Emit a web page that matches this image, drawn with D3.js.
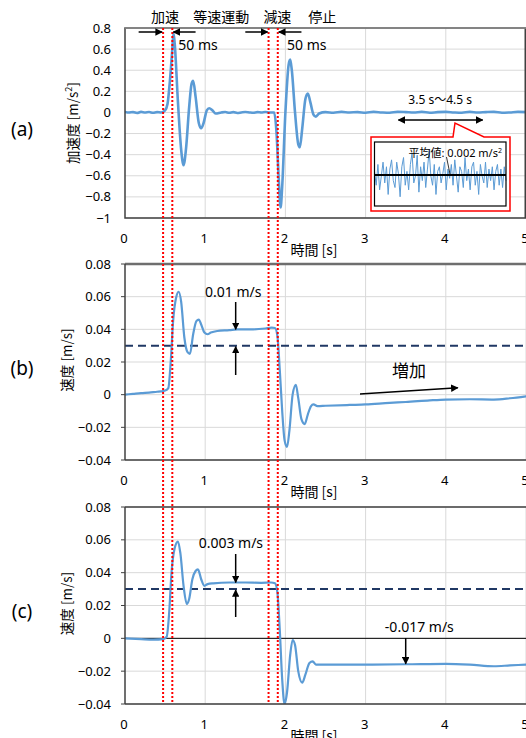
<!DOCTYPE html>
<html lang="ja">
<head>
<meta charset="UTF-8">
<title>加速度・速度</title>
<style>
  body { margin: 0; background: #fff; }
  svg { display: block; }
  text { font-family: "Noto Sans", "Noto Sans CJK JP", sans-serif; fill: #000; }
  .jp { font-family: "Noto Sans CJK JP", "Noto Sans", sans-serif; }
  .tick-label { font-size: 13px; }
  .grid line { stroke: #d9d9d9; stroke-width: 1; }
  .series { fill: none; stroke: #5b9bd5; stroke-linejoin: round; stroke-linecap: round; }
  .phase { stroke: #ff0000; stroke-width: 2; stroke-dasharray: 2,2; }
  .target { stroke: #203864; stroke-width: 2; stroke-dasharray: 8,5; }
  .arrow { stroke: #000; stroke-width: 1.5; fill: none; }
</style>
</head>
<body>
<script src="https://cdn.jsdelivr.net/npm/d3@7"></script>
<script>
// --- data ---
var xTicks = [0, 1, 2, 3, 4, 5];
var accTicks = [0.8, 0.6, 0.4, 0.2, 0, -0.2, -0.4, -0.6, -0.8, -1];
var velTicks = [0.08, 0.06, 0.04, 0.02, 0, -0.02, -0.04];

// phase boundaries [s] (red dotted lines)
var phaseTimes = [0.475, 0.59, 1.79, 1.905];
var phaseLabels = [
  {t: 0.5, text: "加速"}, {t: 1.2, text: "等速運動"},
  {t: 1.9, text: "減速"}, {t: 2.46, text: "停止"}
];

// (a) acceleration [m/s^2]
var accTime = [0, 0.05, 0.1, 0.15, 0.2, 0.25, 0.3, 0.35, 0.4, 0.45, 0.5, 0.53, 0.56, 0.59, 0.605, 0.62,
  0.66, 0.70, 0.73, 0.76, 0.80, 0.83, 0.85, 0.88, 0.92, 0.95, 0.98, 1.02, 1.05, 1.09, 1.13, 1.2, 1.25,
  1.3, 1.35, 1.4, 1.45, 1.5, 1.55, 1.6, 1.65, 1.7, 1.75, 1.8, 1.86, 1.89, 1.915, 1.94, 1.96, 2.0, 2.04,
  2.06, 2.08, 2.12, 2.16, 2.18, 2.21, 2.25, 2.28, 2.31, 2.35, 2.38, 2.42, 2.5, 2.6, 2.7, 2.8, 2.9, 3.0,
  3.1, 3.2, 3.3, 3.4, 3.5, 3.6, 3.7, 3.8, 3.9, 4.0, 4.1, 4.2, 4.3, 4.4, 4.5, 4.6, 4.7, 4.8, 4.9, 5.0];
var accel = [0.005, 0.0, 0.003, -0.005, 0.005, 0.0, 0.004, -0.003, 0.003, 0.0, 0.02, 0.08, 0.3, 0.6, 0.75, 0.65,
  0.1, -0.35, -0.5, -0.35, 0.05, 0.27, 0.3, 0.15, -0.1, -0.15, -0.1, 0.02, 0.04, 0.02, -0.01, 0.0, 0.004,
  -0.003, 0.003, -0.005, 0.0, 0.004, 0.0, -0.003, 0.003, 0.0, 0.004, 0.0, 0.0, -0.2, -0.6, -0.9, -0.7, 0.0, 0.45,
  0.5, 0.4, 0.0, -0.3, -0.33, -0.15, 0.13, 0.18, 0.1, -0.02, -0.04, -0.01, 0.003, -0.003, 0.005, 0.0, 0.003, -0.003,
  0.005, 0.0, -0.003, 0.005, 0.003, 0.0, 0.005, -0.003, 0.003, 0.005, 0.0, -0.003, 0.005, 0.0, 0.003, 0.005, -0.003, 0.0, 0.005, 0.003];

// inset: 3.5 s - 4.5 s detail [m/s^2]
var insetNoise = [0.01, -0.02, 0.025, -0.03, 0.0, 0.03, -0.015, 0.02, -0.04, 0.015, 0.035, -0.01, -0.025, 0.03,
  0.005, -0.045, 0.02, 0.04, -0.02, 0.01, -0.03, 0.025, 0.05, -0.015, 0.0, 0.045, -0.035, 0.02, -0.01, 0.03,
  -0.025, 0.015, 0.055, 0.0, -0.02, 0.025, -0.04, 0.01, 0.02, -0.015, 0.005, 0.03, -0.03, 0.015, -0.005, 0.025,
  -0.02, 0.035, 0.0, -0.035, 0.02, 0.01, -0.025, 0.04, -0.01, 0.015, -0.03, 0.02, 0.03, -0.02, 0.01, -0.04,
  0.025, 0.0, -0.015, 0.03, -0.025, 0.015, -0.01, 0.02, -0.03, 0.01, 0.025, -0.02, 0.015, -0.025, 0.02, -0.01];
var insetMean = 0.002;

// (b) velocity [m/s]
var velBTime = [0, 0.1, 0.2, 0.3, 0.4, 0.45, 0.5, 0.54, 0.57, 0.6, 0.64, 0.67, 0.7, 0.74, 0.78, 0.81, 0.85,
  0.89, 0.92, 0.95, 0.99, 1.03, 1.07, 1.15, 1.3, 1.4, 1.6, 1.75, 1.83, 1.87, 1.9, 1.93, 1.96, 1.99, 2.02,
  2.05, 2.09, 2.13, 2.16, 2.2, 2.24, 2.28, 2.32, 2.35, 2.4, 2.5, 2.8, 3.0, 3.3, 3.5, 3.8, 4.0, 4.3, 4.6, 4.8, 5.0];
var velB = [0, 0.0005, 0.001, 0.0013, 0.0018, 0.002, 0.0025, 0.004, 0.02, 0.045, 0.06, 0.063, 0.057, 0.035,
  0.026, 0.025, 0.037, 0.045, 0.046, 0.043, 0.038, 0.037, 0.038, 0.039, 0.0395, 0.040, 0.040, 0.0405, 0.041,
  0.0408, 0.036, 0.015, -0.01, -0.028, -0.032, -0.022, 0.0, 0.006, -0.002, -0.015, -0.018, -0.012, -0.007,
  -0.006, -0.007, -0.0068, -0.0063, -0.006, -0.005, -0.0045, -0.0035, -0.003, -0.0028, -0.003, -0.0022, -0.001];

// (c) velocity [m/s]
var velCTime = [0, 0.2, 0.35, 0.48, 0.52, 0.55, 0.58, 0.62, 0.66, 0.69, 0.73, 0.77, 0.8, 0.84, 0.88, 0.91,
  0.95, 0.99, 1.03, 1.1, 1.3, 1.5, 1.7, 1.82, 1.87, 1.9, 1.93, 1.96, 1.99, 2.02, 2.06, 2.09, 2.12, 2.16,
  2.21, 2.25, 2.3, 2.34, 2.38, 2.5, 3.0, 3.5, 4.0, 4.3, 4.6, 4.8, 5.0];
var velC = [0, -0.0005, -0.0008, -0.0005, 0.001, 0.015, 0.04, 0.055, 0.059, 0.052, 0.032, 0.021, 0.024,
  0.036, 0.041, 0.042, 0.036, 0.032, 0.033, 0.0335, 0.034, 0.034, 0.0338, 0.034, 0.0335, 0.028, 0.005,
  -0.025, -0.04, -0.033, -0.01, -0.001, -0.004, -0.02, -0.027, -0.022, -0.015, -0.014, -0.016, -0.016,
  -0.016, -0.0158, -0.0155, -0.016, -0.017, -0.0165, -0.016];

var targetVel = 0.03;

// --- layout ---
var W = 526, H = 738;
var x0 = 125, x1 = 526;
var svg = d3.select("body").append("svg").attr("width", W).attr("height", H);

var defs = svg.append("defs");
defs.append("marker").attr("id", "head").attr("viewBox", "0 0 10 10")
  .attr("refX", 9).attr("refY", 5).attr("markerWidth", 5).attr("markerHeight", 5)
  .attr("orient", "auto-start-reverse").attr("markerUnits", "strokeWidth")
  .append("path").attr("d", "M0,0L10,5L0,10z").attr("fill", "#000");

var x = d3.scaleLinear().domain([0, 5]).range([x0, x1]);

var panels = [
  {id: "a", label: "(a)", top: 28, bottom: 218, domain: [-1, 0.8], ticks: accTicks,
   time: accTime, values: accel, width: 2.6, fmt: d3.format("")},
  {id: "b", label: "(b)", top: 264, bottom: 460, domain: [-0.04, 0.08], ticks: velTicks,
   time: velBTime, values: velB, width: 2.2, fmt: d3.format(".2f")},
  {id: "c", label: "(c)", top: 507, bottom: 704, domain: [-0.04, 0.08], ticks: velTicks,
   time: velCTime, values: velC, width: 2.2, fmt: d3.format(".2f")}
];

panels.forEach(function(p) {
  var y = d3.scaleLinear().domain(p.domain).range([p.bottom, p.top]);
  p.y = y;
  var g = svg.append("g").attr("class", "panel-" + p.id);

  defs.append("clipPath").attr("id", "clip-" + p.id).append("rect")
    .attr("x", x0).attr("y", p.top).attr("width", x1 - x0).attr("height", p.bottom - p.top);

  // grid
  var grid = g.append("g").attr("class", "grid");
  grid.selectAll(".gy").data(p.ticks).enter().append("line")
    .attr("x1", x0).attr("x2", x1).attr("y1", y).attr("y2", y);
  grid.selectAll(".gx").data(xTicks.slice(1)).enter().append("line")
    .attr("x1", x).attr("x2", x).attr("y1", p.top).attr("y2", p.bottom);

  // y tick labels
  g.selectAll(".yl").data(p.ticks).enter().append("text")
    .attr("class", "tick-label").attr("x", 111).attr("y", y).attr("dy", "0.35em")
    .attr("text-anchor", "end")
    .text(function(d) { return d === 0 ? "0" : (p.id === "a" ? d3.format("")(+d.toFixed(1)) : p.fmt(d)); });

  // x tick labels
  g.selectAll(".xl").data(xTicks).enter().append("text")
    .attr("class", "tick-label").attr("x", function(d) { return x(d) - 1; })
    .attr("y", p.bottom + 25).attr("text-anchor", "middle").text(function(d) { return d; });

  g.append("text").attr("class", "jp").attr("x", 314).attr("y", p.bottom + 37)
    .attr("text-anchor", "middle").style("font-size", "14px").text("時間 [s]");

  // panel tag
  g.append("text").attr("x", 22).attr("y", (p.top + p.bottom) / 2 + 6).attr("dy", "0.35em")
    .attr("text-anchor", "middle").style("font-size", "19px").text(p.label);
});

// axis titles
var ta = svg.append("text").attr("class", "jp").attr("transform", "translate(78,123) rotate(-90)")
  .attr("text-anchor", "middle").style("font-size", "13.5px");
ta.append("tspan").text("加速度 [m/s");
ta.append("tspan").attr("baseline-shift", "super").style("font-size", "9px").text("2");
ta.append("tspan").text("]");
[panels[1], panels[2]].forEach(function(p) {
  svg.append("text").attr("class", "jp")
    .attr("transform", "translate(72," + ((p.top + p.bottom) / 2 - 2) + ") rotate(-90)")
    .attr("text-anchor", "middle").style("font-size", "13.5px").text("速度 [m/s]");
});

// reference lines: target velocity, zero line in (c)
[panels[1], panels[2]].forEach(function(p) {
  svg.append("line").attr("class", "target").attr("x1", x0).attr("x2", x1)
    .attr("y1", p.y(targetVel)).attr("y2", p.y(targetVel));
});
svg.append("line").attr("x1", x0).attr("x2", x1)
  .attr("y1", panels[2].y(0)).attr("y2", panels[2].y(0)).attr("stroke", "#000").attr("stroke-width", 1);

// series
panels.forEach(function(p) {
  var line = d3.line().x(function(d) { return x(d[0]); }).y(function(d) { return p.y(d[1]); })
    .curve(d3.curveMonotoneX);
  svg.append("path").attr("class", "series").attr("clip-path", "url(#clip-" + p.id + ")")
    .attr("stroke-width", p.width)
    .attr("d", line(d3.zip(p.time, p.values)));
});

// frames
var pa = panels[0];
svg.append("rect").attr("x", x0).attr("y", pa.top).attr("width", x1 - x0 - 0.75).attr("height", pa.bottom - pa.top)
  .attr("fill", "none").attr("stroke", "#404040").attr("stroke-width", 1.5);
svg.append("line").attr("x1", x0).attr("x2", x1).attr("y1", pa.top).attr("y2", pa.top)
  .attr("stroke", "#8c8c8c").attr("stroke-width", 1.5);
[panels[1], panels[2]].forEach(function(p) {
  svg.append("line").attr("x1", x0).attr("x2", x1).attr("y1", p.top).attr("y2", p.top)
    .attr("stroke", p.id === "b" ? "#6e6e6e" : "#404040").attr("stroke-width", p.id === "b" ? 2.5 : 1.5);
  svg.append("line").attr("x1", x0).attr("x2", x1).attr("y1", p.bottom).attr("y2", p.bottom)
    .attr("stroke", "#404040").attr("stroke-width", 1.5);
  svg.append("line").attr("x1", x0).attr("x2", x0).attr("y1", p.top).attr("y2", p.bottom)
    .attr("stroke", "#404040").attr("stroke-width", 1.5);
  svg.selectAll(null).data(p.ticks).enter().append("line")
    .attr("x1", x0 - 4).attr("x2", x0).attr("y1", p.y).attr("y2", p.y)
    .attr("stroke", "#404040").attr("stroke-width", 1);
});

// phase boundaries across all panels
svg.selectAll(".phase").data(phaseTimes).enter().append("line").attr("class", "phase")
  .attr("x1", x).attr("x2", x).attr("y1", pa.top).attr("y2", panels[2].bottom);

svg.selectAll(".phase-label").data(phaseLabels).enter().append("text").attr("class", "jp")
  .attr("x", function(d) { return x(d.t); }).attr("y", 22).attr("text-anchor", "middle")
  .style("font-size", "14px").text(function(d) { return d.text; });

function arrow(xa, ya, xb, yb, both) {
  var l = svg.append("line").attr("class", "arrow")
    .attr("x1", xa).attr("y1", ya).attr("x2", xb).attr("y2", yb).attr("marker-end", "url(#head)");
  if (both) l.attr("marker-start", "url(#head)");
  return l;
}

// 50 ms arrows
arrow(x(0.17), 32, x(phaseTimes[0]) - 1, 32);
arrow(x(0.88), 32, x(phaseTimes[1]) + 1, 32);
arrow(x(1.5), 32, x(phaseTimes[2]) - 1, 32);
arrow(x(2.2), 32, x(phaseTimes[3]) + 1, 32);
svg.append("text").attr("x", x(0.665)).attr("y", 50).style("font-size", "14px").text("50 ms");
svg.append("text").attr("x", x(2.02)).attr("y", 50).style("font-size", "14px").text("50 ms");

// (a) inset window 3.5 s - 4.5 s
svg.append("text").attr("x", x(3.93)).attr("y", 104).attr("text-anchor", "middle")
  .style("font-size", "12px").text("3.5 s〜4.5 s");
arrow(x(3.41), 120, x(4.46), 120, true);

var ib = {l: 371, t: 137, r: 510, b: 211};
svg.append("path")
  .attr("d", "M" + ib.l + "," + ib.t + "H453L455,123L484," + ib.t + "H" + ib.r + "V" + ib.b + "H" + ib.l + "Z")
  .attr("fill", "#fff").attr("stroke", "#ff0000").attr("stroke-width", 1.5);
var inner = {l: 374.5, t: 142, r: 506, b: 206};
svg.append("line").attr("x1", x(4)).attr("x2", x(4)).attr("y1", inner.t).attr("y2", inner.b)
  .attr("stroke", "#e3e3e3").attr("stroke-width", 1);
var ix = d3.scaleLinear().domain([0, insetNoise.length - 1]).range([inner.l, inner.r]);
var iy = d3.scaleLinear().domain([-0.065, 0.065]).range([inner.b, inner.t + 4]);
svg.append("path").attr("fill", "none").attr("stroke", "#5b9bd5").attr("stroke-width", 1)
  .attr("d", d3.line().x(function(d, i) { return ix(i); }).y(function(d) { return iy(d); })(insetNoise));
svg.append("line").attr("x1", inner.l).attr("x2", inner.r).attr("y1", iy(insetMean)).attr("y2", iy(insetMean))
  .attr("stroke", "#000").attr("stroke-width", 2);
svg.append("rect").attr("x", inner.l).attr("y", inner.t).attr("width", inner.r - inner.l)
  .attr("height", inner.b - inner.t).attr("fill", "none").attr("stroke", "#000").attr("stroke-width", 1.2);
var mt = svg.append("text").attr("x", 502).attr("y", 157).attr("text-anchor", "end").style("font-size", "11px");
mt.append("tspan").attr("class", "jp").text("平均値");
mt.append("tspan").text(": 0.002 m/s");
mt.append("tspan").attr("baseline-shift", "super").style("font-size", "7px").text("2");
svg.append("line").attr("x1", 446.5).attr("y1", 157).attr("x2", 450).attr("y2", iy(insetMean) - 1)
  .attr("stroke", "#000").attr("stroke-width", 0.8);

// (b) annotations
var pb = panels[1];
svg.append("text").attr("x", x(1.35)).attr("y", 297).attr("text-anchor", "middle")
  .style("font-size", "14px").text("0.01 m/s");
arrow(x(1.38), 302, x(1.38), pb.y(0.04));
arrow(x(1.38), 375, x(1.38), pb.y(targetVel) + 1);
svg.append("text").attr("class", "jp").attr("x", 409).attr("y", 377).attr("text-anchor", "middle")
  .style("font-size", "17px").text("増加");
arrow(x(2.93), 394, x(4.15), 387.7);

// (c) annotations
var pc = panels[2];
svg.append("text").attr("x", x(1.32)).attr("y", 548).attr("text-anchor", "middle")
  .style("font-size", "14px").text("0.003 m/s");
arrow(x(1.38), 554, x(1.38), pc.y(0.034));
arrow(x(1.38), 617, x(1.38), pc.y(targetVel) + 1);
svg.append("text").attr("x", x(3.67)).attr("y", 632).attr("text-anchor", "middle")
  .style("font-size", "14px").text("-0.017 m/s");
arrow(x(3.5), 638, x(3.5), pc.y(-0.0155));
</script>
</body>
</html>
